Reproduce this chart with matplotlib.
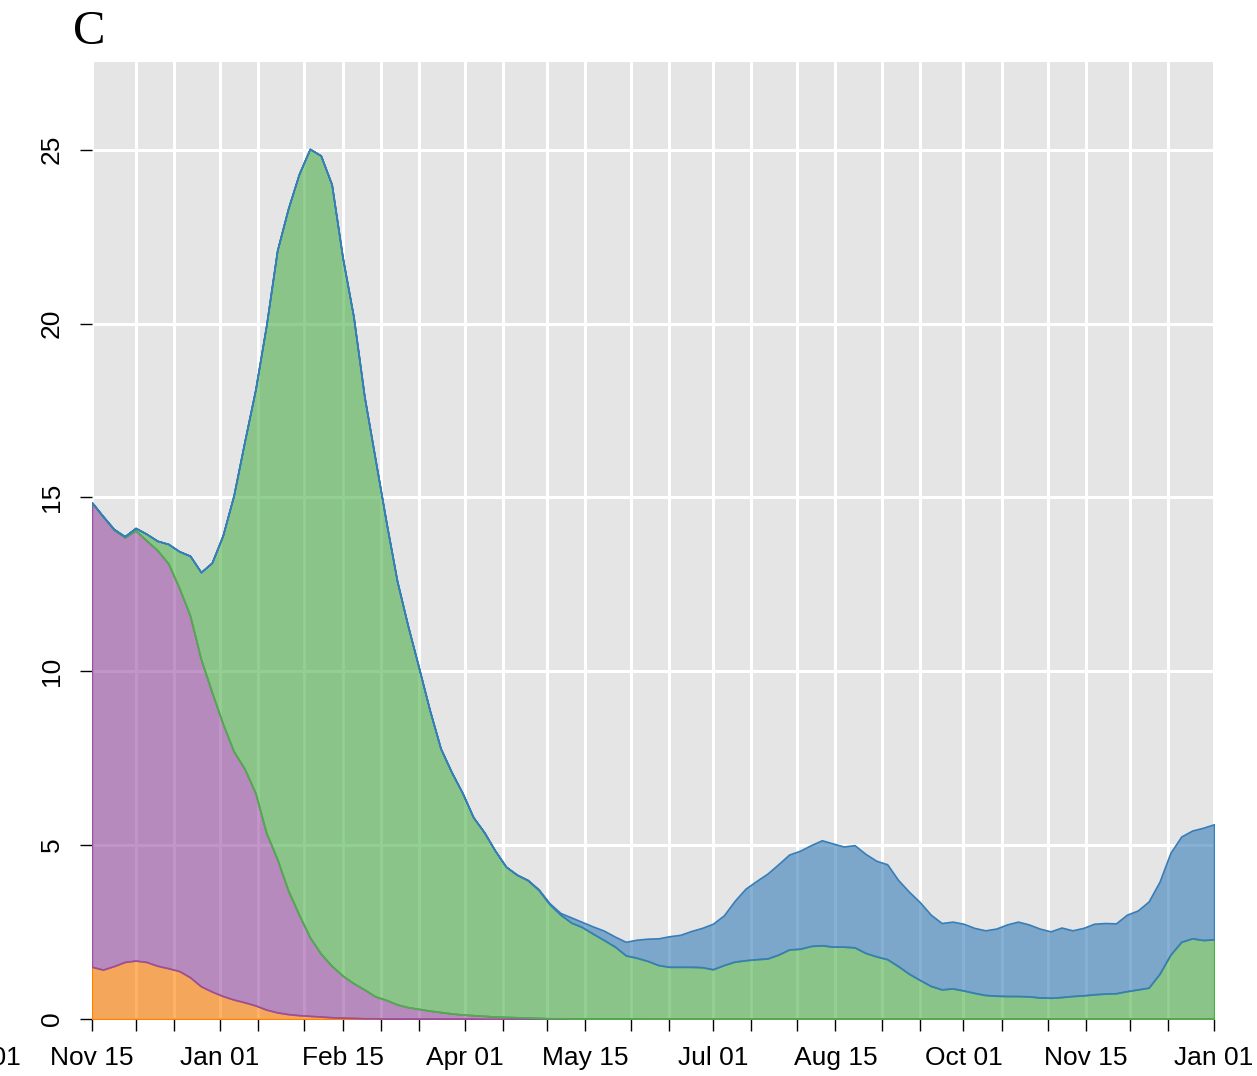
import matplotlib.pyplot as plt
import matplotlib.dates as mdates
import matplotlib.ticker as mticker
import pandas as pd
import numpy as np

# one value every 4 days, 2020-11-15 .. 2022-01-01 (8 values per row = 32 days)
dates = pd.date_range("2020-11-15", "2022-01-01", freq="4D")

orange = [1.50, 1.42, 1.52, 1.64, 1.68, 1.64, 1.53, 1.46,
          1.38, 1.20, 0.94, 0.79, 0.66, 0.56, 0.48, 0.39,
          0.27, 0.19, 0.14, 0.11, 0.09, 0.07, 0.05, 0.04,
          0.03, 0.02, 0.02, 0.01, 0.01, 0.01, 0.01, 0.01,
          0.01, 0.01, 0.01, 0.01, 0.00, 0.00, 0.00, 0.00,
          0.00, 0.00, 0.00, 0.00, 0.00, 0.00, 0.00, 0.00,
          0.00, 0.00, 0.00, 0.00, 0.00, 0.00, 0.00, 0.00,
          0.00, 0.00, 0.00, 0.00, 0.00, 0.00, 0.00, 0.00,
          0.00, 0.00, 0.00, 0.00, 0.00, 0.00, 0.00, 0.00,
          0.00, 0.00, 0.00, 0.00, 0.00, 0.00, 0.00, 0.00,
          0.00, 0.00, 0.00, 0.00, 0.00, 0.00, 0.00, 0.00,
          0.00, 0.00, 0.00, 0.00, 0.00, 0.00, 0.00, 0.00,
          0.00, 0.00, 0.00, 0.00, 0.00, 0.00, 0.00, 0.00]

purple = [13.34, 13.03, 12.55, 12.21, 12.37, 12.12, 11.95, 11.64,
          11.02, 10.40, 9.41, 8.61, 7.84, 7.14, 6.72, 6.11,
          5.08, 4.41, 3.56, 2.89, 2.26, 1.81, 1.48, 1.21,
          1.00, 0.83, 0.63, 0.54, 0.41, 0.33, 0.28, 0.23,
          0.19, 0.15, 0.12, 0.10, 0.09, 0.07, 0.06, 0.05,
          0.04, 0.03, 0.02, 0.02, 0.01, 0.01, 0.01, 0.01,
          0.01, 0.01, 0.01, 0.00, 0.00, 0.00, 0.00, 0.00,
          0.00, 0.00, 0.00, 0.00, 0.00, 0.00, 0.00, 0.00,
          0.00, 0.00, 0.00, 0.00, 0.00, 0.00, 0.00, 0.00,
          0.00, 0.00, 0.00, 0.00, 0.00, 0.00, 0.00, 0.00,
          0.00, 0.00, 0.00, 0.00, 0.00, 0.00, 0.00, 0.00,
          0.00, 0.00, 0.00, 0.00, 0.00, 0.00, 0.00, 0.00,
          0.00, 0.00, 0.00, 0.00, 0.00, 0.00, 0.00, 0.00]

green = [0.01, 0.01, 0.02, 0.03, 0.07, 0.19, 0.27, 0.56,
         1.05, 1.72, 2.50, 3.72, 5.40, 7.35, 9.40, 11.60,
         14.60, 17.50, 19.60, 21.30, 22.67, 22.95, 22.47, 20.65,
         19.17, 17.05, 15.45, 13.75, 12.18, 10.96, 9.81, 8.64,
         7.58, 6.94, 6.37, 5.69, 5.28, 4.77, 4.32, 4.10,
         3.95, 3.68, 3.28, 2.98, 2.76, 2.63, 2.44, 2.26,
         2.07, 1.82, 1.75, 1.67, 1.55, 1.50, 1.50, 1.50,
         1.49, 1.43, 1.55, 1.65, 1.69, 1.72, 1.74, 1.85,
         2.00, 2.02, 2.10, 2.12, 2.08, 2.08, 2.06, 1.90,
         1.80, 1.72, 1.52, 1.30, 1.12, 0.95, 0.85, 0.88,
         0.82, 0.75, 0.69, 0.67, 0.66, 0.66, 0.65, 0.62,
         0.61, 0.63, 0.66, 0.68, 0.71, 0.73, 0.74, 0.80,
         0.85, 0.90, 1.30, 1.85, 2.22, 2.32, 2.27, 2.29]

blue = [0.00, 0.00, 0.00, 0.00, 0.00, 0.00, 0.00, 0.00,
        0.00, 0.00, 0.00, 0.00, 0.00, 0.00, 0.00, 0.00,
        0.00, 0.00, 0.00, 0.00, 0.00, 0.00, 0.00, 0.00,
        0.00, 0.00, 0.00, 0.00, 0.00, 0.00, 0.00, 0.00,
        0.00, 0.00, 0.00, 0.00, 0.00, 0.00, 0.00, 0.00,
        0.01, 0.02, 0.03, 0.05, 0.15, 0.15, 0.21, 0.27,
        0.29, 0.39, 0.52, 0.64, 0.77, 0.88, 0.92, 1.03,
        1.13, 1.31, 1.43, 1.75, 2.06, 2.25, 2.44, 2.60,
        2.73, 2.82, 2.90, 3.02, 2.97, 2.88, 2.94, 2.85,
        2.75, 2.73, 2.48, 2.36, 2.24, 2.05, 1.91, 1.92,
        1.92, 1.87, 1.86, 1.93, 2.06, 2.14, 2.07, 1.98,
        1.91, 2.00, 1.89, 1.94, 2.03, 2.03, 2.01, 2.20,
        2.27, 2.48, 2.65, 2.93, 3.03, 3.10, 3.23, 3.31]

label_dates = ["2020-11-15", "2021-01-01", "2021-02-15", "2021-04-01",
               "2021-05-15", "2021-07-01", "2021-08-15", "2021-10-01",
               "2021-11-15", "2022-01-01"]
y_ticks = [0, 5, 10, 15, 20, 25]

colors = ["#FF7F00", "#984EA3", "#4DAF4A", "#377EB8"]

plt.rcParams['font.family'] = ['Liberation Sans', 'DejaVu Sans']

fig = plt.figure(figsize=(12.57, 10.76), dpi=100)
ax = fig.add_axes([92/1257, 57/1076, 1122/1257, 957/1076])
ax.set_facecolor("#E5E5E5")

x = mdates.date2num(dates)
layers = np.array([orange, purple, green, blue])
tops = np.cumsum(layers, axis=0)
bottoms = np.vstack([np.zeros(len(x)), tops[:-1]])

for lo, hi, c in zip(bottoms, tops, colors):
    ax.fill_between(x, lo, hi, facecolor=(c, 0.6), edgecolor=c, lw=1.2, zorder=2)

ax.set_xlim(x[0], x[-1])
ax.set_ylim(0, 27.52)

ax.xaxis.set_major_locator(mticker.FixedLocator(mdates.date2num(pd.to_datetime(label_dates))))
ax.xaxis.set_major_formatter(mdates.DateFormatter("%b %d"))
ax.xaxis.set_minor_locator(mdates.DayLocator(bymonthday=[1, 15]))
ax.set_yticks(y_ticks)

ax.set_axisbelow(True)
ax.grid(True, which='both', axis='x', color='white', lw=2.2)
ax.grid(True, which='major', axis='y', color='white', lw=2.2)

for s in ax.spines.values():
    s.set_visible(False)

ax.tick_params(axis='both', which='both', direction='out', length=8.5, width=1, color='black')
ax.tick_params(axis='x', which='major', labelsize=19, pad=11)
ax.tick_params(axis='y', labelsize=19, pad=12, labelrotation=90)
for lab in ax.get_yticklabels():
    lab.set_va('center')

# first label left of the plot, cut by the figure edge
fig.text(21/1257, 1 - 1046/1076, "Oct 01", ha='right', va='top', fontsize=19)

fig.text(73/1257, 1 - 44/1076, "C", family='Liberation Serif', fontsize=35, va='baseline')

fig.savefig("out.png", dpi=100)
